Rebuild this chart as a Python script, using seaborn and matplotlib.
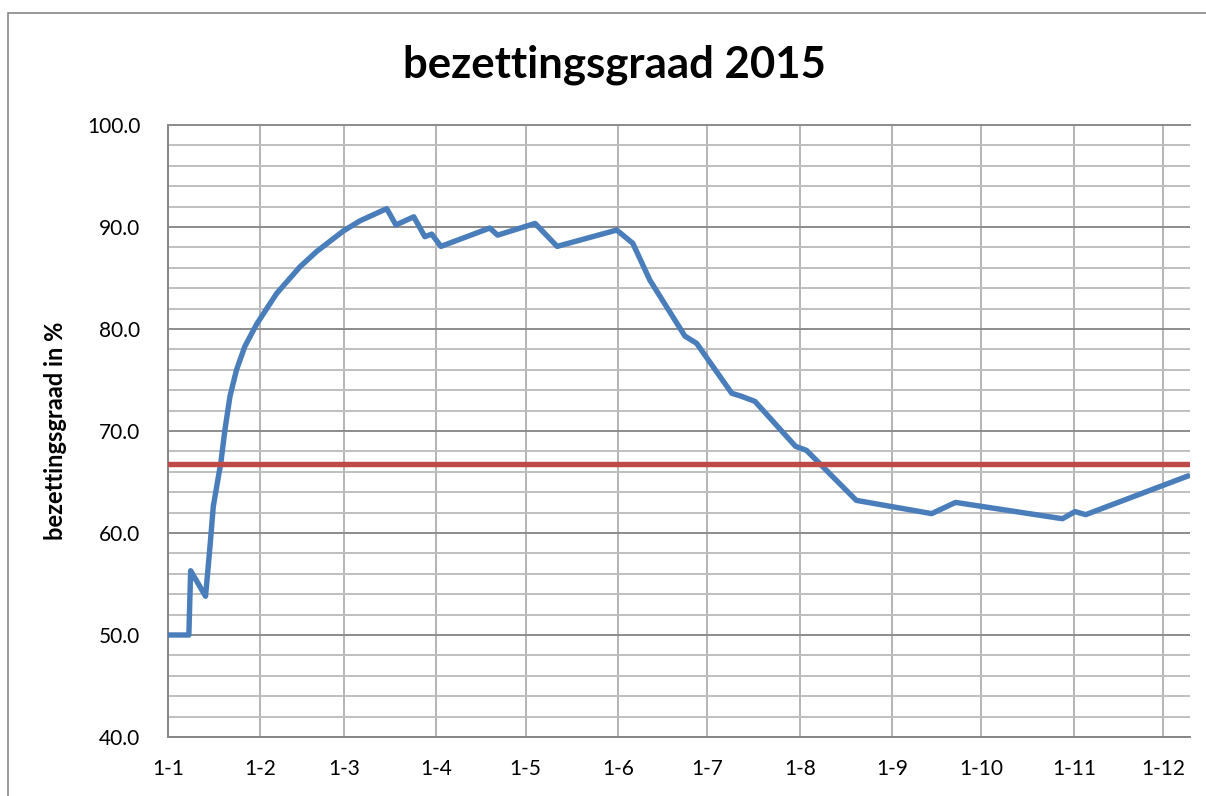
import matplotlib
matplotlib.use("Agg")
import matplotlib.pyplot as plt
import seaborn as sns
import pandas as pd
from matplotlib.patches import Rectangle
from matplotlib.ticker import MultipleLocator

# Data (day of year 2015, 0 = 1 Jan)
days = [0, 7, 7.6, 12.6, 14.1, 15.2, 16.9, 17.7, 19.1, 20.8, 23.0, 25.8, 29.8,
        36.5, 44.3, 49.9, 58.8, 64.4, 73.4, 76.5, 82.5, 86.2, 88.5, 91.6, 108,
        110.6, 123.2, 130.6, 150.6, 156, 161.7, 173.5, 177.4, 189.2, 192.5,
        197, 210.6, 214.3, 231, 256.3, 264.3, 300.2, 304.4, 308, 342.4]
occupancy = [50.0, 50.0, 56.3, 53.8, 58.7, 62.6, 65.5, 66.8, 70.1, 73.4, 76.0,
             78.3, 80.5, 83.5, 86.1, 87.6, 89.6, 90.6, 91.8, 90.2, 91.0, 89.05,
             89.3, 88.1, 89.9, 89.2, 90.35, 88.1, 89.7, 88.4, 84.8, 79.3, 78.6,
             73.7, 73.4, 72.9, 68.5, 68.1, 63.2, 61.9, 63.0, 61.4, 62.1, 61.8,
             65.6]
target = 66.8
month_days = [0, 31, 59, 90, 120, 151, 181, 212, 243, 273, 304, 334]
month_labels = ["1-1", "1-2", "1-3", "1-4", "1-5", "1-6", "1-7", "1-8", "1-9",
                "1-10", "1-11", "1-12"]

sns.set_theme(style="white")
plt.rcParams['font.family'] = ['Lato', 'DejaVu Sans']
plt.rcParams['text.color'] = 'black'
plt.rcParams['axes.labelcolor'] = 'black'

W, H = 1206, 796
fig = plt.figure(figsize=(W / 100, H / 100), dpi=100)
ax = fig.add_axes([168 / W, 1 - 737 / H, (1190 - 168) / W, (737 - 125) / H])

# outer chart frame
fig.patches.append(Rectangle((8 / W, -0.05), 1.1, 1 - 13 / H + 0.05,
                             transform=fig.transFigure, fill=False,
                             edgecolor="#868686", linewidth=1.2))

df = pd.DataFrame({"day": days, "pct": occupancy})
sns.lineplot(data=df, x="day", y="pct", ax=ax, color="#4a7ebb",
             linewidth=3.9, sort=False, estimator=None, zorder=3)
ax.axhline(target, color="#be4b48", linewidth=3.9, zorder=4)

ax.set_xlim(0, 343)
ax.set_ylim(40, 100)
ax.set_xticks(month_days)
ax.set_xticklabels(month_labels)
ax.yaxis.set_major_locator(MultipleLocator(10))
ax.yaxis.set_minor_locator(MultipleLocator(2))
ax.set_yticklabels([f"{v:.1f}" for v in ax.get_yticks()])
ax.set_ylim(40, 100)

ax.grid(which="minor", axis="y", color="#bfbfbf", linewidth=1.4, zorder=0)
ax.grid(which="major", axis="y", color="#8c8c8c", linewidth=1.4, zorder=0)
ax.grid(which="major", axis="x", color="#b4b4b4", linewidth=1.4, zorder=0)

ax.tick_params(axis="both", which="both", length=0, labelsize=15,
               labelcolor="black")
ax.tick_params(axis="y", pad=20)
ax.tick_params(axis="x", pad=16)

for s in ["left", "bottom"]:
    ax.spines[s].set_color("#868686")
    ax.spines[s].set_linewidth(1.4)
ax.spines["top"].set_color("#8c8c8c")
ax.spines["top"].set_linewidth(1.4)
ax.spines["right"].set_visible(False)

ax.set_xlabel("")
ax.set_ylabel("bezettingsgraad in %", fontsize=17, fontweight="bold",
              labelpad=14, color="black")
fig.text(614 / W, 1 - 65 / H, "bezettingsgraad 2015", fontsize=31.5,
         fontweight="bold", ha="center", va="center", color="black")

fig.savefig("out.png", dpi=100)
